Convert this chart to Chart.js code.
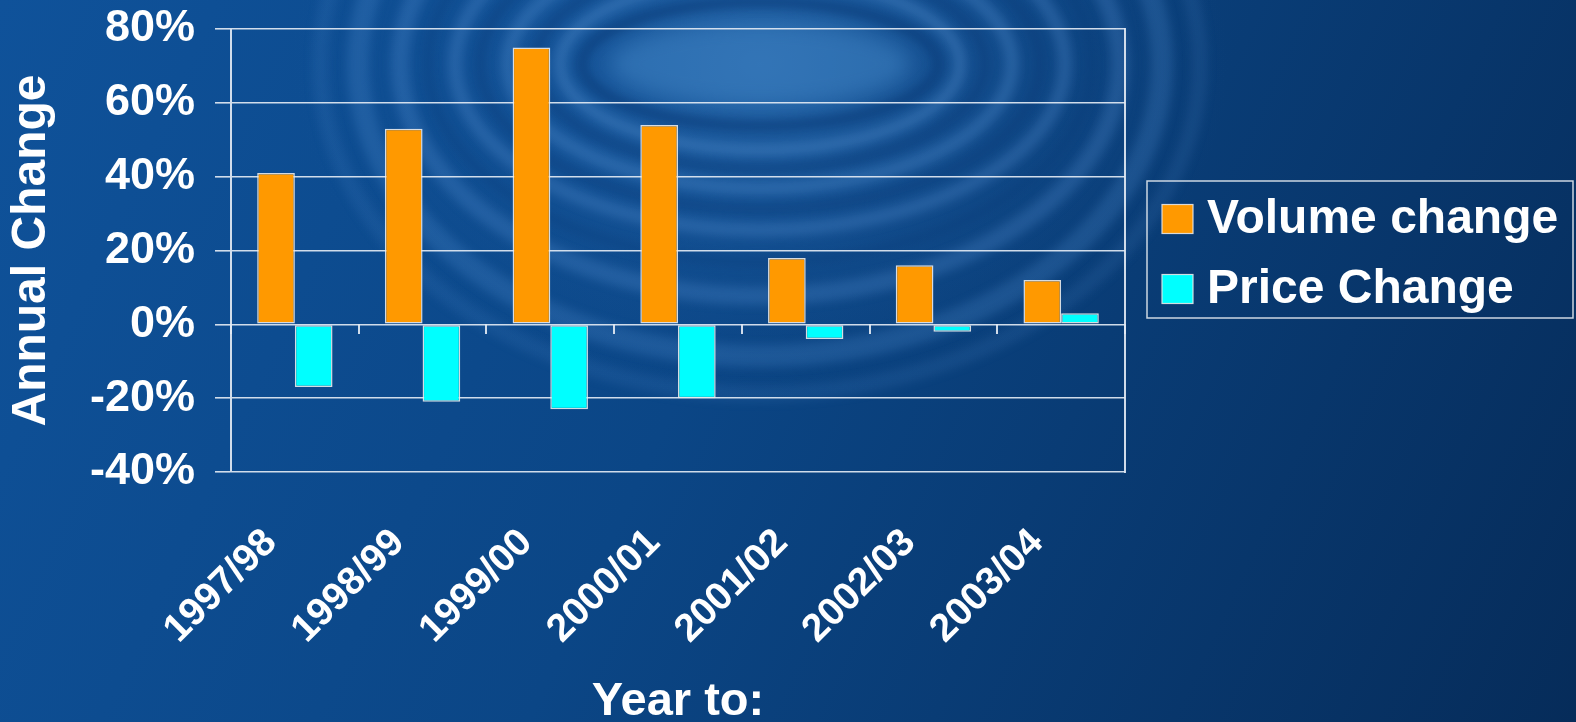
<!DOCTYPE html>
<html>
<head>
<meta charset="utf-8">
<title>Annual Change</title>
<script src="https://cdn.jsdelivr.net/npm/chart.js@4/dist/chart.umd.min.js"></script>
<style>
  html, body { margin: 0; padding: 0; background: #0b4686; }
  canvas { display: block; }
</style>
</head>
<body>
<canvas id="c" width="1576" height="722"></canvas>
<script>
// Years (financial year ending) and annual % changes
const categories = ['1997/98', '1998/99', '1999/00', '2000/01', '2001/02', '2002/03', '2003/04'];
const volumeChange = [41, 53, 75, 54, 18, 16, 12];
const priceChange = [-17, -21, -23, -20, -4, -2, 3];
const seriesNames = ['Volume change', 'Price Change'];
const yTickValues = [-40, -20, 0, 20, 40, 60, 80];

const FONT = '"Liberation Sans", Arial, Helvetica, sans-serif';
const WHITE = '#ffffff';
const LINE = 'rgba(226,233,243,0.92)';

// Blue backdrop with water ripples
const backdrop = {
  id: 'backdrop',
  beforeDraw(chart) {
    const ctx = chart.ctx;
    const W = chart.width, H = chart.height;
    ctx.save();
    const g = ctx.createLinearGradient(0, 0, W, H);
    g.addColorStop(0, '#0f529a');
    g.addColorStop(0.45, '#0b4686');
    g.addColorStop(1, '#062c5a');
    ctx.fillStyle = g;
    ctx.fillRect(0, 0, W, H);

    const cx = 760, cy = 64;
    // soft glow of the ripple field
    ctx.save();
    ctx.translate(cx, cy);
    ctx.scale(1, 0.72);
    const rg = ctx.createRadialGradient(0, 0, 0, 0, 0, 470);
    rg.addColorStop(0, 'rgba(70,140,210,0.40)');
    rg.addColorStop(0.5, 'rgba(50,115,190,0.20)');
    rg.addColorStop(1, 'rgba(30,90,160,0)');
    ctx.fillStyle = rg;
    ctx.beginPath();
    ctx.arc(0, 0, 470, 0, Math.PI * 2);
    ctx.fill();
    ctx.restore();

    // bright centre
    ctx.filter = 'blur(10px)';
    ctx.fillStyle = 'rgba(72,140,205,0.45)';
    ctx.beginPath();
    ctx.ellipse(cx, cy, 150, 42, 0, 0, Math.PI * 2);
    ctx.fill();

    // concentric rings
    const rings = [
      [178, 62, 10, 'rgba(8,55,115,0.55)'],
      [200, 86, 12, 'rgba(95,155,220,0.30)'],
      [225, 105, 8, 'rgba(8,55,115,0.45)'],
      [252, 124, 14, 'rgba(95,155,220,0.28)'],
      [280, 145, 8, 'rgba(8,55,115,0.40)'],
      [305, 166, 14, 'rgba(95,155,220,0.26)'],
      [332, 198, 8, 'rgba(8,55,115,0.30)'],
      [360, 232, 18, 'rgba(95,155,220,0.24)'],
      [402, 292, 22, 'rgba(95,155,220,0.21)'],
      [440, 330, 16, 'rgba(95,155,220,0.12)']
    ];
    ctx.filter = 'blur(5px)';
    for (const [rx, ry, w, col] of rings) {
      ctx.strokeStyle = col;
      ctx.lineWidth = w;
      ctx.beginPath();
      ctx.ellipse(cx, cy, rx, ry, 0, 0, Math.PI * 2);
      ctx.stroke();
    }
    ctx.filter = 'none';
    ctx.restore();
  }
};

// Boxed legend to the right of the plot
const boxedLegend = {
  id: 'boxedLegend',
  afterDraw(chart) {
    const ctx = chart.ctx;
    const area = chart.chartArea;
    const left = area.right + 22;
    const width = 426, height = 137;
    const top = (area.top + area.bottom) / 2 - height / 2 - 1;
    ctx.save();
    ctx.strokeStyle = 'rgba(215,222,232,0.95)';
    ctx.lineWidth = 1.5;
    ctx.strokeRect(left, top, width, height);
    ctx.font = 'bold 48px ' + FONT;
    ctx.textBaseline = 'middle';
    ctx.textAlign = 'left';
    chart.data.datasets.forEach((ds, i) => {
      const rowY = top + 38 + i * 70;
      ctx.fillStyle = ds.backgroundColor;
      ctx.fillRect(left + 15, rowY - 14.5, 31, 29);
      ctx.strokeStyle = 'rgba(230,230,230,0.9)';
      ctx.lineWidth = 1.2;
      ctx.strokeRect(left + 15, rowY - 14.5, 31, 29);
      ctx.fillStyle = WHITE;
      ctx.fillText(ds.label, left + 60, rowY + 1);
    });
    ctx.restore();
  }
};

// keep the plot frame where the layout padding puts it
function noVerticalPadding(scale) {
  scale.paddingTop = 0;
  scale.paddingBottom = 0;
}

new Chart(document.getElementById('c'), {
  type: 'bar',
  data: {
    labels: categories,
    datasets: [
      {
        label: seriesNames[0],
        data: volumeChange,
        backgroundColor: '#FF9900',
        borderColor: 'rgba(235,235,235,0.9)',
        borderWidth: 1.5,
        borderSkipped: false
      },
      {
        label: seriesNames[1],
        data: priceChange,
        backgroundColor: '#00FFFF',
        borderColor: 'rgba(235,235,235,0.9)',
        borderWidth: 1.5,
        borderSkipped: false
      }
    ]
  },
  options: {
    responsive: false,
    devicePixelRatio: 1,
    animation: false,
    categoryPercentage: 0.59,
    barPercentage: 1.0,
    layout: { padding: { top: 29, right: 451, left: 0, bottom: 0 } },
    plugins: {
      legend: { display: false },
      tooltip: { enabled: false }
    },
    scales: {
      x: {
        grid: { display: false },
        border: { display: false },
        ticks: {
          color: WHITE,
          font: { family: FONT, size: 39, weight: 'bold' },
          minRotation: 45,
          maxRotation: 45,
          autoSkip: false,
          padding: 40,
          labelOffset: -24
        },
        title: {
          display: true,
          text: 'Year to:',
          color: WHITE,
          font: { family: FONT, size: 47, weight: 'bold', lineHeight: 0.85 },
          padding: { top: 0, bottom: 0 }
        },
        afterFit(scale) { scale.height = 250; }
      },
      x2: {
        type: 'category',
        position: { y: 0 },
        offset: true,
        grid: {
          offset: true,
          drawOnChartArea: false,
          drawTicks: true,
          tickLength: 10,
          color: LINE,
          lineWidth: 2
        },
        border: { display: false },
        ticks: { display: false }
      },
      y: {
        min: -40,
        max: 80,
        afterBuildTicks(scale) { scale.ticks = yTickValues.map(v => ({ value: v })); },
        grid: { color: LINE, lineWidth: 1.6, tickLength: 16, drawTicks: true },
        border: { display: true, color: LINE, width: 2 },
        ticks: {
          color: WHITE,
          padding: 20,
          font: { family: FONT, size: 45, weight: 'bold' },
          callback: v => v + '%'
        },
        title: {
          display: true,
          text: 'Annual Change',
          color: WHITE,
          font: { family: FONT, size: 48, weight: 'bold' },
          padding: { top: 3, bottom: 0 }
        },
        afterFit(scale) { scale.width = 231; noVerticalPadding(scale); }
      },
      y2: {
        position: 'right',
        grid: { drawOnChartArea: false, drawTicks: false },
        border: { display: true, color: LINE, width: 2 },
        ticks: { display: false },
        afterFit(scale) { noVerticalPadding(scale); }
      }
    }
  },
  plugins: [backdrop, boxedLegend]
});
</script>
</body>
</html>
